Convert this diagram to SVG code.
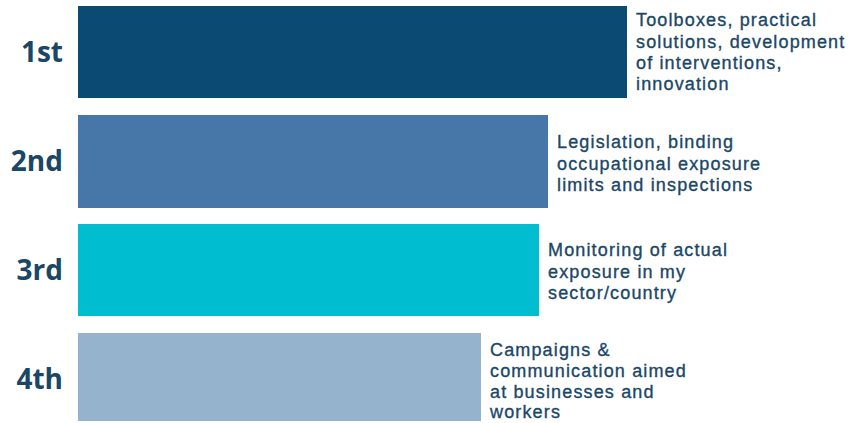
<svg xmlns="http://www.w3.org/2000/svg" width="852" height="423" viewBox="0 0 852 423">
<style>
.rank{font-family:"Open Sans","Liberation Sans",sans-serif;font-weight:700;font-size:28px;fill:#1b4767;text-anchor:end}
.lbl{font-family:"Liberation Sans",Arial,sans-serif;font-size:18px;letter-spacing:1.15px;fill:#1b4767;stroke:#1b4767;stroke-width:0.35px}
</style>
<rect width="852" height="423" fill="#ffffff"/>
<g id="n1">
<rect x="78" y="6" width="549" height="92" fill="#0b4a72"/>
<text class="rank" x="63" y="62">1st</text>
<text class="lbl" x="636" y="26">Toolboxes, practical</text>
<text class="lbl" x="636" y="47.5">solutions, development</text>
<text class="lbl" x="636" y="69">of interventions,</text>
<text class="lbl" x="636" y="90">innovation</text>
</g>
<g id="n2">
<rect x="78" y="115" width="470" height="93" fill="#4677a8"/>
<text class="rank" x="63" y="171">2nd</text>
<text class="lbl" x="557" y="148">Legislation, binding</text>
<text class="lbl" x="557" y="169.5">occupational exposure</text>
<text class="lbl" x="557" y="191">limits and inspections</text>
</g>
<g id="n3">
<rect x="78" y="224" width="461" height="92" fill="#00bdd0"/>
<text class="rank" x="63" y="280">3rd</text>
<text class="lbl" x="548" y="256">Monitoring of actual</text>
<text class="lbl" x="548" y="277.5">exposure in my</text>
<text class="lbl" x="548" y="299">sector/country</text>
</g>
<g id="n4">
<rect x="78" y="333" width="403" height="88" fill="#95b3cc"/>
<text class="rank" x="63" y="389">4th</text>
<text class="lbl" x="490" y="356">Campaigns &amp;</text>
<text class="lbl" x="490" y="377">communication aimed</text>
<text class="lbl" x="490" y="398">at businesses and</text>
<text class="lbl" x="490" y="418">workers</text>
</g>
<g id="connectors"></g>
</svg>
